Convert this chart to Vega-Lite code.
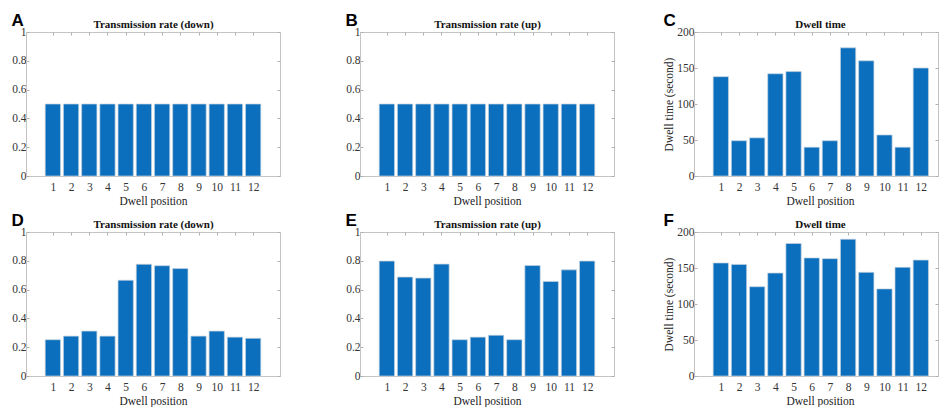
{
  "$schema": "https://vega.github.io/schema/vega-lite/v6.json",
  "background": "white",
  "padding": {"left": 11, "top": 11, "right": 0, "bottom": 0},
  "config": {
    "view": {"stroke": "#c4c4c4", "strokeWidth": 1},
    "axis": {
      "domainColor": "#c4c4c4",
      "tickColor": "#b0b0b0",
      "tickSize": -3,
      "grid": false,
      "labelFont": "Liberation Serif",
      "labelFontSize": 11.5,
      "labelColor": "#333333",
      "titleFont": "Liberation Serif",
      "titleFontSize": 11.5,
      "titleFontWeight": "normal",
      "titleColor": "#222222"
    },
    "title": {
      "font": "Liberation Sans",
      "fontSize": 17,
      "fontWeight": "bold",
      "color": "#000000",
      "anchor": "start",
      "frame": "group",
      "offset": 0
    }
  },
  "datasets": {
    "A": [
      {"position": 1, "value": 0.5}, {"position": 2, "value": 0.5}, {"position": 3, "value": 0.5},
      {"position": 4, "value": 0.5}, {"position": 5, "value": 0.5}, {"position": 6, "value": 0.5},
      {"position": 7, "value": 0.5}, {"position": 8, "value": 0.5}, {"position": 9, "value": 0.5},
      {"position": 10, "value": 0.5}, {"position": 11, "value": 0.5}, {"position": 12, "value": 0.5}
    ],
    "B": [
      {"position": 1, "value": 0.5}, {"position": 2, "value": 0.5}, {"position": 3, "value": 0.5},
      {"position": 4, "value": 0.5}, {"position": 5, "value": 0.5}, {"position": 6, "value": 0.5},
      {"position": 7, "value": 0.5}, {"position": 8, "value": 0.5}, {"position": 9, "value": 0.5},
      {"position": 10, "value": 0.5}, {"position": 11, "value": 0.5}, {"position": 12, "value": 0.5}
    ],
    "C": [
      {"position": 1, "value": 138}, {"position": 2, "value": 49}, {"position": 3, "value": 53},
      {"position": 4, "value": 142}, {"position": 5, "value": 145}, {"position": 6, "value": 40},
      {"position": 7, "value": 49}, {"position": 8, "value": 178}, {"position": 9, "value": 160},
      {"position": 10, "value": 57}, {"position": 11, "value": 40}, {"position": 12, "value": 150}
    ],
    "D": [
      {"position": 1, "value": 0.252}, {"position": 2, "value": 0.277}, {"position": 3, "value": 0.312},
      {"position": 4, "value": 0.277}, {"position": 5, "value": 0.665}, {"position": 6, "value": 0.776},
      {"position": 7, "value": 0.766}, {"position": 8, "value": 0.746}, {"position": 9, "value": 0.277},
      {"position": 10, "value": 0.312}, {"position": 11, "value": 0.27}, {"position": 12, "value": 0.262}
    ],
    "E": [
      {"position": 1, "value": 0.798}, {"position": 2, "value": 0.687}, {"position": 3, "value": 0.68},
      {"position": 4, "value": 0.777}, {"position": 5, "value": 0.252}, {"position": 6, "value": 0.27},
      {"position": 7, "value": 0.283}, {"position": 8, "value": 0.252}, {"position": 9, "value": 0.767},
      {"position": 10, "value": 0.657}, {"position": 11, "value": 0.737}, {"position": 12, "value": 0.798}
    ],
    "F": [
      {"position": 1, "value": 157}, {"position": 2, "value": 155}, {"position": 3, "value": 124},
      {"position": 4, "value": 143}, {"position": 5, "value": 184}, {"position": 6, "value": 164},
      {"position": 7, "value": 163}, {"position": 8, "value": 190}, {"position": 9, "value": 144},
      {"position": 10, "value": 121}, {"position": 11, "value": 151}, {"position": 12, "value": 161}
    ]
  },
  "columns": 3,
  "bounds": "flush",
  "spacing": {"row": 56, "column": 80},
  "concat": [
    {
      "width": 254, "height": 144,
      "title": {"text": "A", "dx": -14.5, "dy": 15},
      "data": {"name": "A"},
      "layer": [
        {
          "mark": {"type": "bar", "color": "#0b6fbd", "stroke": "#c6d2de", "strokeWidth": 0.7, "width": 15.3},
          "encoding": {
            "x": {"field": "position", "type": "quantitative", "scale": {"domain": [-0.2, 13.2], "nice": false, "zero": false},
                  "axis": {"orient": "bottom", "values": [1,2,3,4,5,6,7,8,9,10,11,12], "labelPadding": 8, "title": "Dwell position", "titlePadding": 3}},
            "y": {"field": "value", "type": "quantitative", "scale": {"domain": [0, 1], "nice": false},
                  "axis": {"orient": "left", "values": [0,0.2,0.4,0.6,0.8,1], "format": "~g", "labelPadding": 3, "title": null}}
          }
        },
        {
          "mark": {"type": "rule", "strokeOpacity": 0},
          "encoding": {
            "x": {"field": "position", "type": "quantitative", "axis": {"orient": "top", "values": [1,2,3,4,5,6,7,8,9,10,11,12], "labels": false, "domain": false, "title": "Transmission rate (down)", "titleFontWeight": "bold", "titleFontSize": 11, "titleColor": "#111111", "titlePadding": 2}},
            "y": {"field": "value", "type": "quantitative", "axis": {"orient": "right", "values": [0,0.2,0.4,0.6,0.8,1], "labels": false, "domain": false, "title": null}}
          }
        }
      ],
      "resolve": {"axis": {"x": "independent", "y": "independent"}}
    },
    {
      "width": 254, "height": 144,
      "title": {"text": "B", "dx": -14.5, "dy": 15},
      "data": {"name": "B"},
      "layer": [
        {
          "mark": {"type": "bar", "color": "#0b6fbd", "stroke": "#c6d2de", "strokeWidth": 0.7, "width": 15.3},
          "encoding": {
            "x": {"field": "position", "type": "quantitative", "scale": {"domain": [-0.2, 13.2], "nice": false, "zero": false},
                  "axis": {"orient": "bottom", "values": [1,2,3,4,5,6,7,8,9,10,11,12], "labelPadding": 8, "title": "Dwell position", "titlePadding": 3}},
            "y": {"field": "value", "type": "quantitative", "scale": {"domain": [0, 1], "nice": false},
                  "axis": {"orient": "left", "values": [0,0.2,0.4,0.6,0.8,1], "format": "~g", "labelPadding": 3, "title": null}}
          }
        },
        {
          "mark": {"type": "rule", "strokeOpacity": 0},
          "encoding": {
            "x": {"field": "position", "type": "quantitative", "axis": {"orient": "top", "values": [1,2,3,4,5,6,7,8,9,10,11,12], "labels": false, "domain": false, "title": "Transmission rate (up)", "titleFontWeight": "bold", "titleFontSize": 11, "titleColor": "#111111", "titlePadding": 2}},
            "y": {"field": "value", "type": "quantitative", "axis": {"orient": "right", "values": [0,0.2,0.4,0.6,0.8,1], "labels": false, "domain": false, "title": null}}
          }
        }
      ],
      "resolve": {"axis": {"x": "independent", "y": "independent"}}
    },
    {
      "width": 244, "height": 144,
      "title": {"text": "C", "dx": -30.5, "dy": 15},
      "data": {"name": "C"},
      "layer": [
        {
          "mark": {"type": "bar", "color": "#0b6fbd", "stroke": "#c6d2de", "strokeWidth": 0.7, "width": 15.3},
          "encoding": {
            "x": {"field": "position", "type": "quantitative", "scale": {"domain": [-0.2, 12.67], "nice": false, "zero": false},
                  "axis": {"orient": "bottom", "values": [1,2,3,4,5,6,7,8,9,10,11,12], "labelPadding": 8, "title": "Dwell position", "titlePadding": 3, "titleX": 126}},
            "y": {"field": "value", "type": "quantitative", "scale": {"domain": [0, 200], "nice": false},
                  "axis": {"orient": "left", "values": [0,50,100,150,200], "labelPadding": 3, "title": "Dwell time (second)", "titlePadding": 2}}
          }
        },
        {
          "mark": {"type": "rule", "strokeOpacity": 0},
          "encoding": {
            "x": {"field": "position", "type": "quantitative", "axis": {"orient": "top", "values": [1,2,3,4,5,6,7,8,9,10,11,12], "labels": false, "domain": false, "title": "Dwell time", "titleFontWeight": "bold", "titleFontSize": 11, "titleColor": "#111111", "titlePadding": 2, "titleX": 126}},
            "y": {"field": "value", "type": "quantitative", "axis": {"orient": "right", "values": [0,50,100,150,200], "labels": false, "domain": false, "title": null}}
          }
        }
      ],
      "resolve": {"axis": {"x": "independent", "y": "independent"}}
    },
    {
      "width": 254, "height": 144,
      "title": {"text": "D", "dx": -14.5, "dy": 15},
      "data": {"name": "D"},
      "layer": [
        {
          "mark": {"type": "bar", "color": "#0b6fbd", "stroke": "#c6d2de", "strokeWidth": 0.7, "width": 15.3},
          "encoding": {
            "x": {"field": "position", "type": "quantitative", "scale": {"domain": [-0.2, 13.2], "nice": false, "zero": false},
                  "axis": {"orient": "bottom", "values": [1,2,3,4,5,6,7,8,9,10,11,12], "labelPadding": 8, "title": "Dwell position", "titlePadding": 3}},
            "y": {"field": "value", "type": "quantitative", "scale": {"domain": [0, 1], "nice": false},
                  "axis": {"orient": "left", "values": [0,0.2,0.4,0.6,0.8,1], "format": "~g", "labelPadding": 3, "title": null}}
          }
        },
        {
          "mark": {"type": "rule", "strokeOpacity": 0},
          "encoding": {
            "x": {"field": "position", "type": "quantitative", "axis": {"orient": "top", "values": [1,2,3,4,5,6,7,8,9,10,11,12], "labels": false, "domain": false, "title": "Transmission rate (down)", "titleFontWeight": "bold", "titleFontSize": 11, "titleColor": "#111111", "titlePadding": 2}},
            "y": {"field": "value", "type": "quantitative", "axis": {"orient": "right", "values": [0,0.2,0.4,0.6,0.8,1], "labels": false, "domain": false, "title": null}}
          }
        }
      ],
      "resolve": {"axis": {"x": "independent", "y": "independent"}}
    },
    {
      "width": 254, "height": 144,
      "title": {"text": "E", "dx": -14.5, "dy": 15},
      "data": {"name": "E"},
      "layer": [
        {
          "mark": {"type": "bar", "color": "#0b6fbd", "stroke": "#c6d2de", "strokeWidth": 0.7, "width": 15.3},
          "encoding": {
            "x": {"field": "position", "type": "quantitative", "scale": {"domain": [-0.2, 13.2], "nice": false, "zero": false},
                  "axis": {"orient": "bottom", "values": [1,2,3,4,5,6,7,8,9,10,11,12], "labelPadding": 8, "title": "Dwell position", "titlePadding": 3}},
            "y": {"field": "value", "type": "quantitative", "scale": {"domain": [0, 1], "nice": false},
                  "axis": {"orient": "left", "values": [0,0.2,0.4,0.6,0.8,1], "format": "~g", "labelPadding": 3, "title": null}}
          }
        },
        {
          "mark": {"type": "rule", "strokeOpacity": 0},
          "encoding": {
            "x": {"field": "position", "type": "quantitative", "axis": {"orient": "top", "values": [1,2,3,4,5,6,7,8,9,10,11,12], "labels": false, "domain": false, "title": "Transmission rate (up)", "titleFontWeight": "bold", "titleFontSize": 11, "titleColor": "#111111", "titlePadding": 2}},
            "y": {"field": "value", "type": "quantitative", "axis": {"orient": "right", "values": [0,0.2,0.4,0.6,0.8,1], "labels": false, "domain": false, "title": null}}
          }
        }
      ],
      "resolve": {"axis": {"x": "independent", "y": "independent"}}
    },
    {
      "width": 244, "height": 144,
      "title": {"text": "F", "dx": -30.5, "dy": 15},
      "data": {"name": "F"},
      "layer": [
        {
          "mark": {"type": "bar", "color": "#0b6fbd", "stroke": "#c6d2de", "strokeWidth": 0.7, "width": 15.3},
          "encoding": {
            "x": {"field": "position", "type": "quantitative", "scale": {"domain": [-0.2, 12.67], "nice": false, "zero": false},
                  "axis": {"orient": "bottom", "values": [1,2,3,4,5,6,7,8,9,10,11,12], "labelPadding": 8, "title": "Dwell position", "titlePadding": 3, "titleX": 126}},
            "y": {"field": "value", "type": "quantitative", "scale": {"domain": [0, 200], "nice": false},
                  "axis": {"orient": "left", "values": [0,50,100,150,200], "labelPadding": 3, "title": "Dwell time (second)", "titlePadding": 2}}
          }
        },
        {
          "mark": {"type": "rule", "strokeOpacity": 0},
          "encoding": {
            "x": {"field": "position", "type": "quantitative", "axis": {"orient": "top", "values": [1,2,3,4,5,6,7,8,9,10,11,12], "labels": false, "domain": false, "title": "Dwell time", "titleFontWeight": "bold", "titleFontSize": 11, "titleColor": "#111111", "titlePadding": 2, "titleX": 126}},
            "y": {"field": "value", "type": "quantitative", "axis": {"orient": "right", "values": [0,50,100,150,200], "labels": false, "domain": false, "title": null}}
          }
        }
      ],
      "resolve": {"axis": {"x": "independent", "y": "independent"}}
    }
  ]
}
